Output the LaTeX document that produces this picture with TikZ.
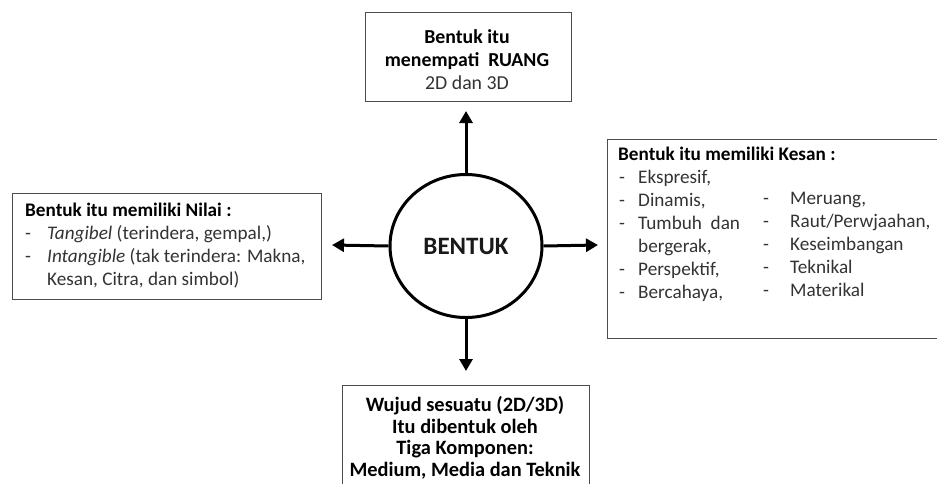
\documentclass[tikz,border=0pt]{standalone}
\usepackage{fontspec}
\setmainfont{Carlito}
\usetikzlibrary{arrows.meta,shapes.geometric}
\newcommand\myhd[1]{\textcolor{black}{\textbf{#1}}}
\begin{document}
\begin{tikzpicture}[x=1pt,y=-1pt,
  box/.style={draw=black!70,line width=1.4pt,inner sep=0pt,anchor=north west},
  txt/.style={inner sep=0pt,font=\fontsize{19.2}{23}\selectfont,text=black!80},
  arr/.style={line width=3pt,-{Triangle[width=13pt,length=12pt]}}]
\useasboundingbox (0,0) rectangle (937,483);
\fill[white] (0,0) rectangle (937,483);
% boxes
\node[box,minimum width=206pt,minimum height=89pt] (top) at (365,12) {};
\node[box,minimum width=309pt,minimum height=106pt] (left) at (12,193) {};
\node[box,minimum width=340pt,minimum height=199pt] (right) at (607,139) {};
\node[box,minimum width=247pt,minimum height=110pt] (bot) at (342,385) {};
% centre
\node[ellipse,draw,line width=3pt,minimum width=152pt,minimum height=143pt,inner sep=0pt,
  font=\bfseries\fontsize{25}{28}\selectfont,text=black!90] (c) at (466,246) {BENTUK};
% arrow ends
\coordinate (tu) at (466,111);
\coordinate (tl) at (332,245);
\coordinate (tr) at (598,245);
\coordinate (td) at (466,371);
\draw[arr] (c.north) -- (tu);
\draw[arr] (c.west) -- (tl);
\draw[arr] (c.east) -- (tr);
\draw[arr] (c.south) -- (td);
% texts
\node[txt,align=center,font=\fontsize{19.8}{23}\selectfont] (ttop) at (467,60) {\myhd{Bentuk itu}\\\myhd{menempati\ \ RUANG}\\2D dan 3D};
\node[txt,anchor=base west] (tleft) at (25,216) {\vtop{%
  \hbox{\myhd{Bentuk itu memiliki Nilai :}}%
  \hbox{\makebox[22pt][l]{-}\textit{Tangibel} (terindera, gempal,)}%
  \hbox{\makebox[22pt][l]{-}\textit{Intangible} (tak terindera: Makna,}%
  \hbox{\hspace*{22pt}Kesan, Citra, dan simbol)}}};
\node[txt,anchor=base west] (tright1) at (618,160) {\vtop{%
  \hbox{\myhd{Bentuk itu memiliki Kesan :}}%
  \hbox{\hspace*{1pt}\makebox[19pt][l]{-}Ekspresif,}%
  \hbox{\hspace*{1pt}\makebox[19pt][l]{-}Dinamis,}%
  \hbox{\hspace*{1pt}\makebox[19pt][l]{-}Tumbuh\ \ dan}%
  \hbox{\hspace*{20pt}bergerak,}%
  \hbox{\hspace*{1pt}\makebox[19pt][l]{-}Perspektif,}%
  \hbox{\hspace*{1pt}\makebox[19pt][l]{-}Bercahaya,}}};
\node[txt,anchor=base west] (tright2) at (763,204) {\vtop{%
  \hbox{\makebox[27pt][l]{-}Meruang,}%
  \hbox{\makebox[27pt][l]{-}Raut/Perwjaahan,}%
  \hbox{\makebox[27pt][l]{-}Keseimbangan}%
  \hbox{\makebox[27pt][l]{-}Teknikal}%
  \hbox{\makebox[27pt][l]{-}Materikal}}};
\node[txt,align=center,font=\bfseries\fontsize{20.4}{21.5}\selectfont,text=black] (tbot) at (465,438)
  {Wujud sesuatu (2D/3D)\\Itu dibentuk oleh\\Tiga Komponen:\\Medium, Media dan Teknik};
\end{tikzpicture}
\end{document}
